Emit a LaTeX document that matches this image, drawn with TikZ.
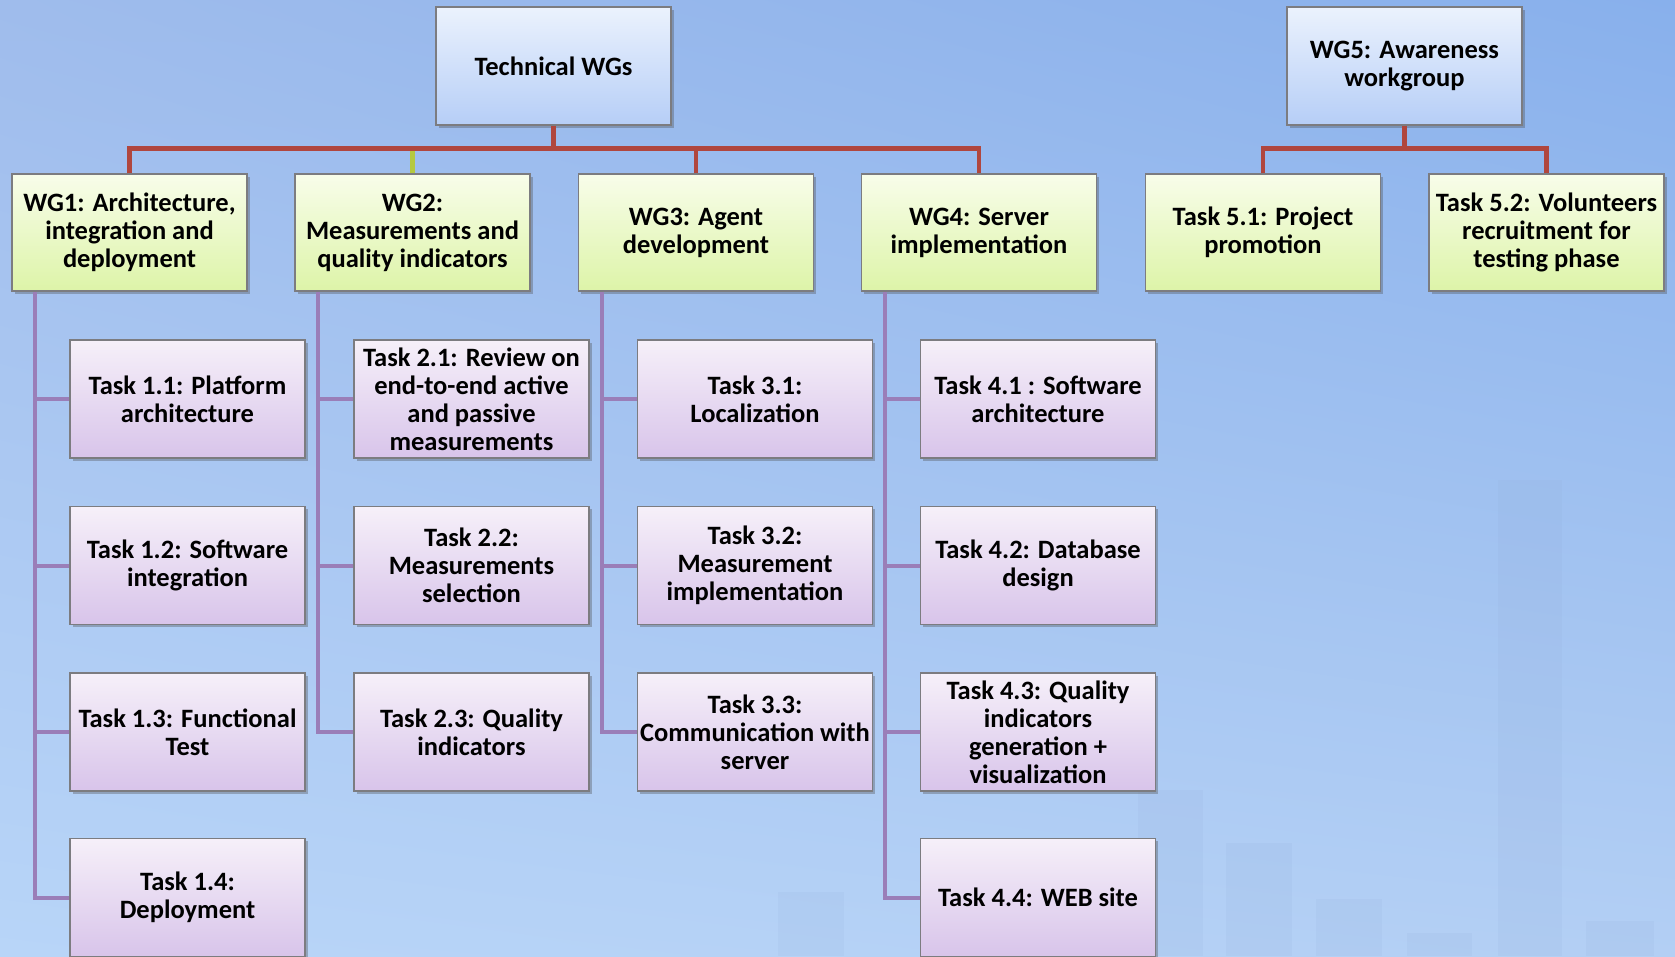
\documentclass[tikz,border=0pt]{standalone}
\usepackage{fontspec}
\setmainfont{Carlito}
\usetikzlibrary{shadows,shadings,calc}

\definecolor{bgA}{HTML}{9FBCEC}
\definecolor{bgB}{HTML}{88B0EC}
\definecolor{bgC}{HTML}{B8D5F8}
\definecolor{bgD}{HTML}{B3CFF4}
\definecolor{barfill}{HTML}{8FA9D6}
\definecolor{topA}{HTML}{EBF2FD}
\definecolor{topB}{HTML}{B6CEF7}
\definecolor{wgA}{HTML}{F8FDEA}
\definecolor{wgB}{HTML}{DDF4A8}
\definecolor{taskA}{HTML}{F6F0F9}
\definecolor{taskB}{HTML}{D8C4EA}
\definecolor{boxline}{HTML}{7C7C80}
\definecolor{busred}{HTML}{B0463E}
\definecolor{busgreen}{HTML}{B5C940}
\definecolor{spinepurple}{HTML}{9A7EB8}

\tikzset{
  box/.style={rectangle, draw=boxline, line width=1.2pt,
    minimum width=235pt, minimum height=117pt, inner sep=2pt,
    align=center, text=black,
    font=\fontsize{26.5}{28}\selectfont\bfseries,
    drop shadow={shadow xshift=2.5pt, shadow yshift=-2.5pt, opacity=0.35, fill=black!70}},
  topbox/.style={box, top color=topA, bottom color=topB},
  wgbox/.style={box, top color=wgA, bottom color=wgB},
  taskbox/.style={box, top color=taskA, bottom color=taskB},
  busline/.style={draw=busred, line width=4.5pt},
  greenline/.style={draw=busgreen, line width=4.5pt},
  spine/.style={draw=spinepurple, line width=4pt},
  bar/.style={fill=barfill, opacity=0.12, draw=none}
}

\begin{document}
\begin{tikzpicture}[x=1pt,y=-1pt]
  \useasboundingbox (0,0) rectangle (1675,956);
  % backdrop
  \shade[upper left=bgA, upper right=bgB, lower left=bgC, lower right=bgD]
    (0,0) rectangle (1675,956);
  % faint bar chart in the backdrop
  \fill[bar] (778,892) rectangle (844,956);
  \fill[bar] (1138,790) rectangle (1203,956);
  \fill[bar] (1226,843) rectangle (1292,956);
  \fill[bar] (1316,899) rectangle (1382,956);
  \fill[bar] (1407,933) rectangle (1472,956);
  \fill[bar] (1498,480) rectangle (1562,956);
  \fill[bar] (1586,921) rectangle (1654,956);

  % headers
  \node[topbox, minimum height=118pt] (tech) at (553.5,66) {Technical WGs};
  \node[topbox, minimum height=118pt] (wg5) at (1404.5,66) {WG5: Awareness\\workgroup};

  % work groups
  \node[wgbox] (wg1) at (129.5,232.5) {WG1: Architecture,\\integration and\\deployment};
  \node[wgbox] (wg2) at (412.5,232.5) {WG2:\\Measurements and\\quality indicators};
  \node[wgbox] (wg3) at (696,232.5) {WG3: Agent\\development};
  \node[wgbox] (wg4) at (979,232.5) {WG4: Server\\implementation};
  \node[wgbox] (t51) at (1263,232.5) {Task 5.1: Project\\promotion};
  \node[wgbox] (t52) at (1546.5,232.5) {Task 5.2: Volunteers\\recruitment for\\testing phase};

  % tasks
  \node[taskbox, minimum height=118pt] (t11) at (187.5,399) {Task 1.1: Platform\\architecture};
  \node[taskbox, minimum height=118pt] (t12) at (187.5,565.5) {Task 1.2: Software\\integration};
  \node[taskbox, minimum height=118pt] (t13) at (187.5,732) {Task 1.3: Functional\\Test};
  \node[taskbox, minimum height=118pt] (t14) at (187.5,897.5) {Task 1.4:\\Deployment};

  \node[taskbox, minimum height=118pt] (t21) at (471.5,399) {Task 2.1: Review on\\end-to-end active\\and passive\\measurements};
  \node[taskbox, minimum height=118pt] (t22) at (471.5,565.5) {Task 2.2:\\Measurements\\selection};
  \node[taskbox, minimum height=118pt] (t23) at (471.5,732) {Task 2.3: Quality\\indicators};

  \node[taskbox, minimum height=118pt] (t31) at (755,399) {Task 3.1:\\Localization};
  \node[taskbox, minimum height=118pt] (t32) at (755,565.5) {Task 3.2:\\Measurement\\implementation};
  \node[taskbox, minimum height=118pt] (t33) at (755,732) {Task 3.3:\\Communication with\\server};

  \node[taskbox, minimum height=118pt] (t41) at (1038,399) {Task 4.1 : Software\\architecture};
  \node[taskbox, minimum height=118pt] (t42) at (1038,565.5) {Task 4.2: Database\\design};
  \node[taskbox, minimum height=118pt] (t43) at (1038,732) {Task 4.3: Quality\\indicators\\generation +\\visualization};
  \node[taskbox, minimum height=118pt] (t44) at (1038,897.5) {Task 4.4: WEB site};

  % bus lines between headers and groups
  \coordinate (bus) at (0,148.5);
  \draw[busline] (wg1.north) -- (wg1.north |- bus) -- (wg4.north |- bus) -- (wg4.north);
  \draw[busline] (tech.south) -- (tech.south |- bus);
  \draw[busline] (wg3.north) -- (wg3.north |- bus);
  \draw[greenline] (wg2.north) -- ([yshift=-2.2pt]wg2.north |- bus);
  \draw[busline] (t51.north) -- (t51.north |- bus) -- (t52.north |- bus) -- (t52.north);
  \draw[busline] (wg5.south) -- (wg5.south |- bus);

  % spines from groups to their tasks
  \coordinate (s1) at ($(wg1.south west)+(24,0)$);
  \coordinate (s2) at ($(wg2.south west)+(24,0)$);
  \coordinate (s3) at ($(wg3.south west)+(24,0)$);
  \coordinate (s4) at ($(wg4.south west)+(24,0)$);

  \draw[spine] (s1) |- (t14.west);
  \draw[spine] (s1 |- t11.west) -- (t11.west);
  \draw[spine] (s1 |- t12.west) -- (t12.west);
  \draw[spine] (s1 |- t13.west) -- (t13.west);

  \draw[spine] (s2) |- (t23.west);
  \draw[spine] (s2 |- t21.west) -- (t21.west);
  \draw[spine] (s2 |- t22.west) -- (t22.west);

  \draw[spine] (s3) |- (t33.west);
  \draw[spine] (s3 |- t31.west) -- (t31.west);
  \draw[spine] (s3 |- t32.west) -- (t32.west);

  \draw[spine] (s4) |- (t44.west);
  \draw[spine] (s4 |- t41.west) -- (t41.west);
  \draw[spine] (s4 |- t42.west) -- (t42.west);
  \draw[spine] (s4 |- t43.west) -- (t43.west);
\end{tikzpicture}
\end{document}
